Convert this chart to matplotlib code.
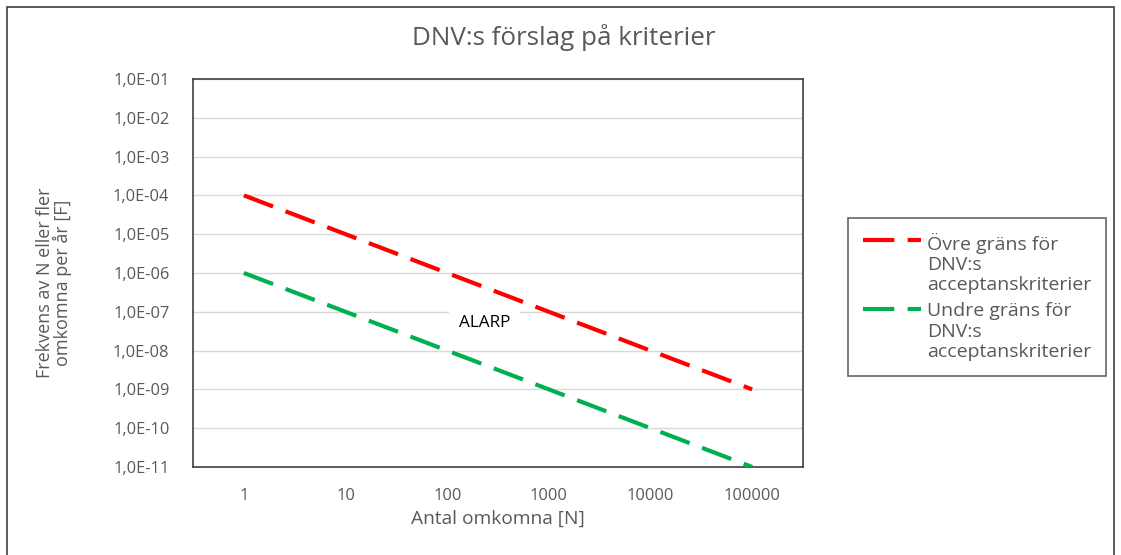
import matplotlib.pyplot as plt
from matplotlib.offsetbox import HPacker
from matplotlib.patches import Rectangle

# Data
antal = ['1', '10', '100', '1000', '10000', '100000']
ovre_grans = [1e-4, 1e-5, 1e-6, 1e-7, 1e-8, 1e-9]
undre_grans = [1e-6, 1e-7, 1e-8, 1e-9, 1e-10, 1e-11]
y_ticks = [1e-11, 1e-10, 1e-9, 1e-8, 1e-7, 1e-6, 1e-5, 1e-4, 1e-3, 1e-2, 1e-1]
y_labels = ['1,0E-11', '1,0E-10', '1,0E-09', '1,0E-08', '1,0E-07', '1,0E-06',
            '1,0E-05', '1,0E-04', '1,0E-03', '1,0E-02', '1,0E-01']

plt.rcParams['font.family'] = ['Open Sans', 'DejaVu Sans']
grey = '#595959'

fig = plt.figure(figsize=(11.21, 5.55), dpi=100)
ax = fig.add_axes([0.1722, 0.1586, 0.5441, 0.6991])

x = range(len(antal))
ax.plot(x, ovre_grans, color='#ff0000', lw=3, dashes=(7.5, 3.2), zorder=3,
        label='Övre gräns för\nDNV:s\nacceptanskriterier')
ax.plot(x, undre_grans, color='#00b050', lw=3, dashes=(7.5, 3.2), zorder=3,
        label='Undre gräns för\nDNV:s\nacceptanskriterier')

ax.set_yscale('log')
ax.set_ylim(1e-11, 1e-1)
ax.set_xlim(-0.5, len(antal) - 0.5)
ax.set_yticks(y_ticks)
ax.set_yticklabels(y_labels)
ax.minorticks_off()
ax.set_xticks(list(x))
ax.set_xticklabels(antal)
ax.tick_params(length=0, labelsize=11.8, labelcolor=grey)
ax.tick_params(axis='y', pad=17)
ax.tick_params(axis='x', pad=15)
ax.grid(axis='y', color='#d9d9d9', lw=1)
ax.set_axisbelow(True)
for s in ax.spines.values():
    s.set_color('#404040')
    s.set_linewidth(1.2)

ax.set_xlabel('Antal omkomna [N]', fontsize=13.8, color=grey, labelpad=4)
ax.set_ylabel('Frekvens av N eller fler\nomkomna per år [F]', fontsize=13, color=grey,
              linespacing=0.95)
ax.yaxis.set_label_coords(-0.198, 0.474)
fig.text(0.503, 0.932, 'DNV:s förslag på kriterier', fontsize=18.7, color=grey,
         ha='center', va='center')

ax.text(2.37, 5e-8, 'ALARP', fontsize=12.3, color='black', ha='center', va='center',
        zorder=2, bbox=dict(facecolor='white', edgecolor='none', pad=7))

leg = fig.legend(loc='upper left', bbox_to_anchor=(0.7565, 0.607), frameon=True,
                 fancybox=False, edgecolor='#404040', fontsize=14, labelcolor=grey,
                 handlelength=3.0, handletextpad=0.3, labelspacing=0.4,
                 borderpad=0.75, borderaxespad=0)
leg.get_frame().set_linewidth(1.2)
for t in leg.get_texts():
    t.set_linespacing(1.17)
for hp in leg.findobj(HPacker):
    hp.align = 'top'

fig.patches.append(Rectangle((0.006, -0.1), 0.988, 1.088, transform=fig.transFigure,
                             fill=False, edgecolor='#404040', lw=1.2))

fig.savefig('out.png', dpi=100)
